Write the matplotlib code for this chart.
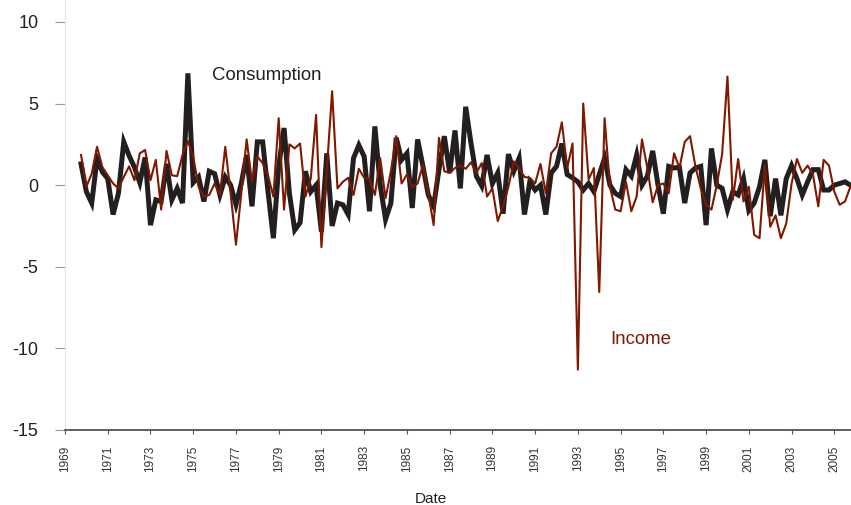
import numpy as np
import matplotlib
matplotlib.use("Agg")
import matplotlib.pyplot as plt

plt.rcParams["font.family"] = ["Liberation Sans", "DejaVu Sans"]

# quarterly percentage changes
consumption = [1.3, -0.4, -1.1, 1.6, 0.8, 0.4, -1.8, -0.5, 2.65, 1.8,
               1.1, 0.15, 1.7, -2.45, -0.9, -1.0, 1.3, -0.9, -0.2, -1.1,
               6.85, 0.15,
               0.5, -1.0, 0.85, 0.7, -0.6, 0.5, 0.0, -1.2, 0.1, 1.85,
               -1.3, 2.65, 2.65, -0.4, -3.25, 1.15, 3.5, -0.5, -2.75, -2.3,
               0.85, -0.4, 0.0, -2.85,
               1.95, -2.5, -1.1, -1.2, -1.8, 1.65, 2.45, 1.75, -1.6, 3.6,
               0.0, -2.1, -1.1, 2.9, 1.55, 1.95, -1.4, 2.8, 1.15, -0.6,
               -1.3, 0.95, 3.0, 0.75, 3.35,
               -0.2, 4.8, 2.55, 0.55, -0.05, 1.85, 0.1, 0.75, -1.75, 1.9,
               0.85, 1.65, -1.8, 0.2, -0.3, 0.0, -1.8, 0.75, 1.15, 2.55,
               0.65, 0.45, 0.2, -0.3,
               0.1, -0.4, 0.65, 1.65, 0.0, -0.5, -0.7, 0.95, 0.55, 1.85,
               0.0, 0.55, 2.1, 0.0, -1.75, 1.15, 1.05, 1.1, -1.1, 0.75,
               1.05, 1.15, -2.45, 2.25,
               0.0, -0.2, -1.5, -0.4, -0.6, 0.4, -1.55, -1.1, -0.1, 1.55,
               -1.9, 0.4, -1.85, 0.4, 1.2, 0.4, -0.6, 0.2, 0.95, 0.95,
               -0.3, -0.3, 0.0, 0.1, 0.2, 0.0]

income = [1.85, -0.1, 0.7, 2.35, 1.1, 0.6, 0.1, -0.2, 0.5, 1.15,
          0.3, 1.95, 2.15, 0.3, 1.55, -1.5, 2.1, 0.6, 0.55, 1.85,
          2.7, 1.75,
          -0.1, -0.7, -0.6, 0.1, -0.6, 2.35, -0.5, -3.65, -0.5, 2.8,
          0.2, 1.75, 1.35, 0.6, -0.7, 4.1, -1.5, 2.5, 2.25, 2.55,
          -0.7, 0.4, 4.3, -3.8,
          0.9, 5.75, -0.2, 0.2, 0.45, -0.6, 1.0, 0.45, 0.35, -0.6,
          1.65, -0.8, 0.85, 3.0, 0.1, 0.65, -0.1, 0.1, 1.25, -0.5,
          -2.45, 2.9, 0.85, 0.75, 1.05,
          1.2, 1.0, 1.4, 0.75, 1.35, -0.7, -0.2, -2.2, -1.3, -0.1,
          1.45, 1.05, 0.5, 0.45, 0.1, 1.3, -0.5, 1.95, 2.35, 3.85,
          1.05, 2.55, -11.3, 5.0,
          0.35, 1.05, -6.55, 4.1, -0.1, -1.5, -1.6, 0.2, -1.6, -0.7,
          2.8, 1.05, -1.05, 0.0, 0.1, -0.5, 1.95, 1.05, 2.65, 3.0,
          1.15, -0.2, -1.2, -1.5,
          0.0, 1.9, 6.65, -0.9, 1.6, -1.0, -0.1, -3.05, -3.25, 1.2,
          -2.55, -1.85, -3.25, -2.35, 0.1, 1.6, 0.75, 1.2, 0.65, -1.3,
          1.55, 1.2, -0.4, -1.2, -1.0, -0.1]

dates = 1969.75 + 0.25 * np.arange(len(consumption))
year_ticks = list(range(1969, 2006, 2))
y_ticks = [10, 5, 0, -5, -10, -15]

black = "#231f20"
red = "#7f1800"

fig = plt.figure(figsize=(8.51, 5.05), dpi=100)
ax = fig.add_axes([65/851, 75/505, 786/851, 430/505])

ax.plot(dates, consumption, color=black, lw=3.6, solid_joinstyle="miter", zorder=2)
ax.plot(dates, income, color=red, lw=1.5, zorder=3)

ax.set_xlim(1969, 1969 + 786/21.37)
ax.set_ylim(-15, 10 + 22/16.4)

ax.set_xticks(year_ticks)
ax.set_xticklabels([str(y) for y in year_ticks], rotation=90, fontsize=8.5, color="#333333")
ax.set_yticks(y_ticks)
ax.set_yticklabels([str(v) for v in y_ticks], fontsize=13, color="#222222")
ax.tick_params(axis="x", length=3, width=0.8, color="#555555", pad=8)
ax.tick_params(axis="y", length=7, width=0.8, color="#999999", pad=12)

for s in ["top", "right"]:
    ax.spines[s].set_visible(False)
ax.spines["left"].set_color("#e6e6e6")
ax.spines["left"].set_linewidth(0.8)
ax.spines["bottom"].set_color("#444444")
ax.spines["bottom"].set_linewidth(1.2)

ax.text(1975.88, 6.72, "Consumption", fontsize=13.4, color=black, va="center", ha="left")
ax.text(1994.5, -9.45, "Income", fontsize=13.4, color=red, va="center", ha="left")

fig.text(431/851, 1 - 492/505, "Date", fontsize=11, color="#222222", ha="center", va="top")

fig.savefig("out.png", dpi=100)
